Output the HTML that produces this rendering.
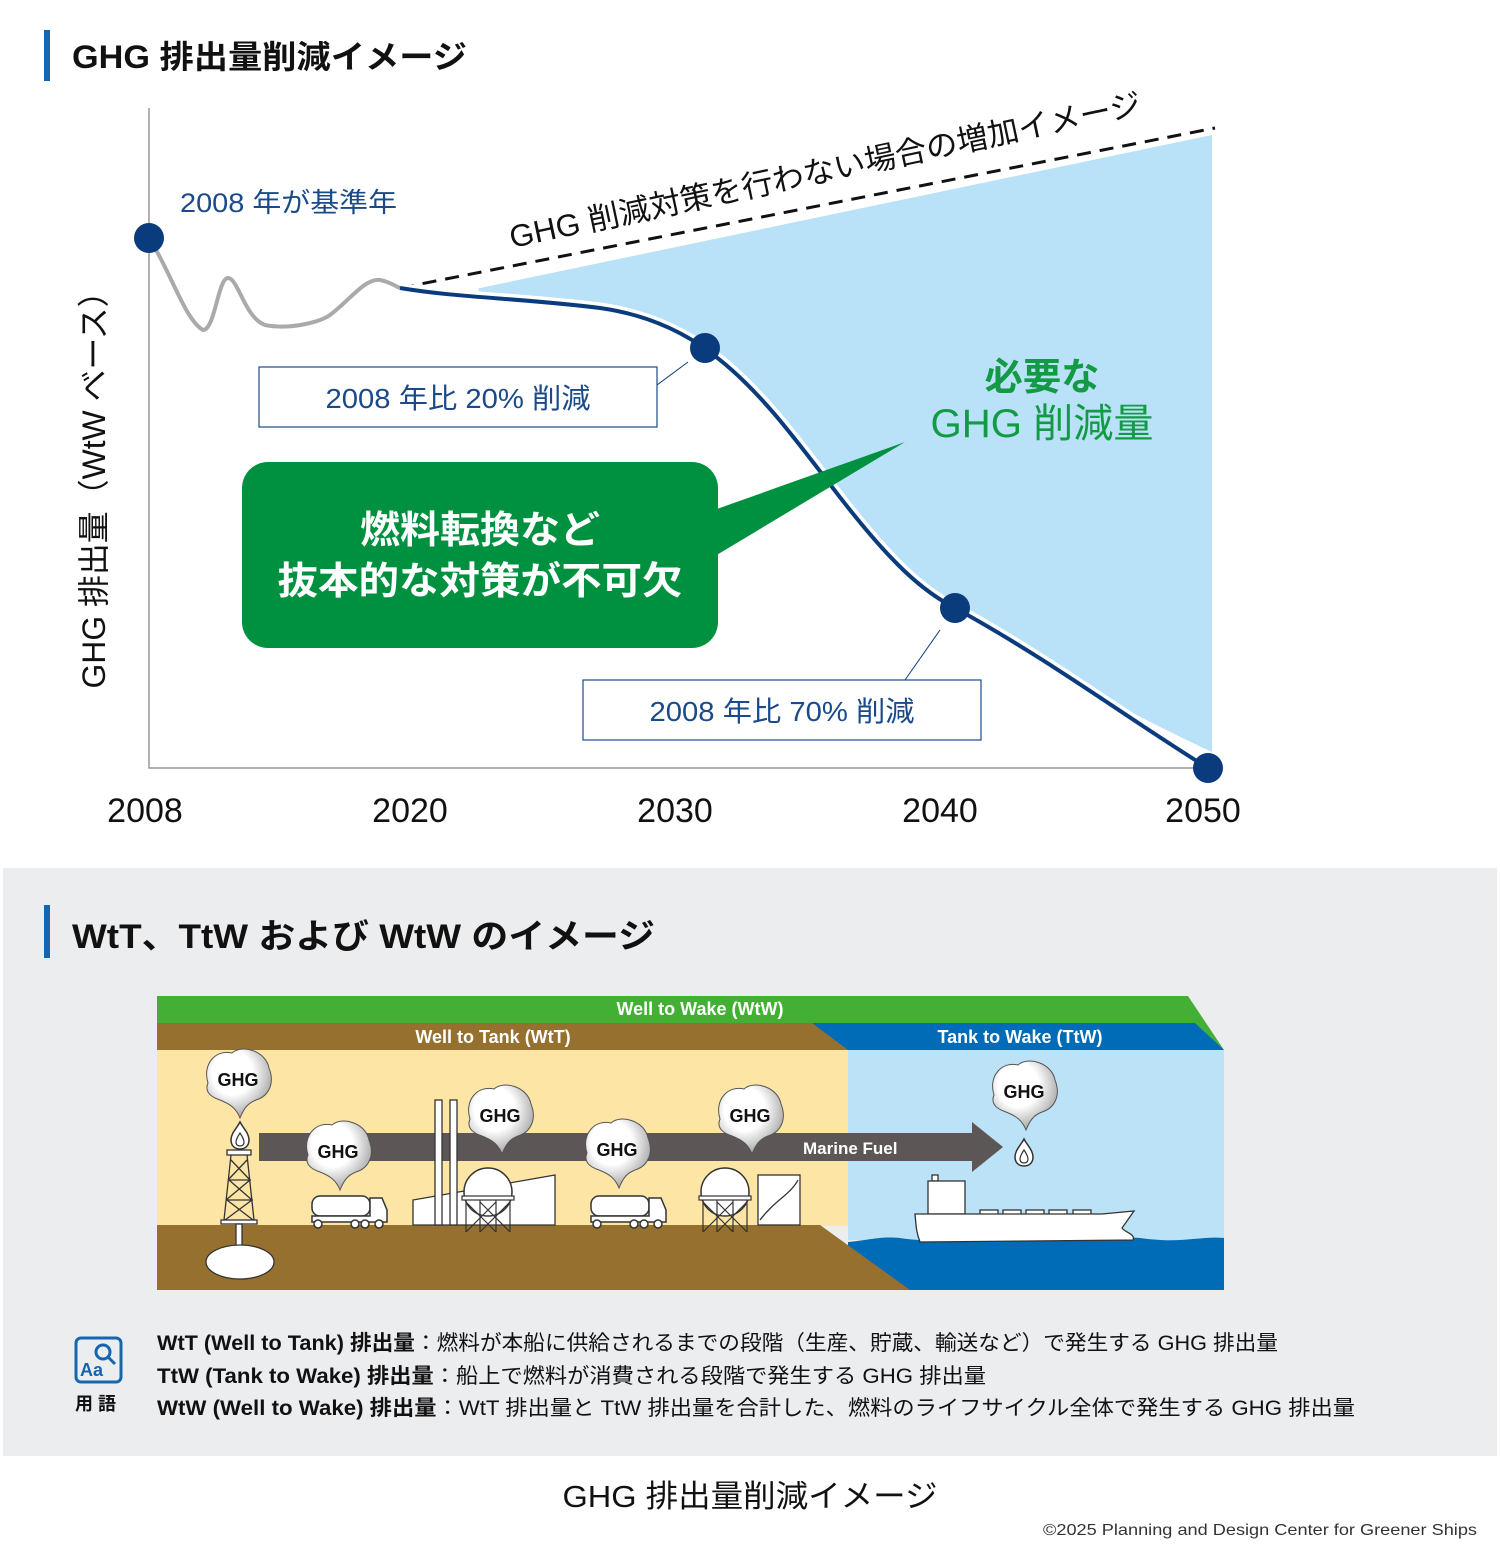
<!DOCTYPE html>
<html><head><meta charset="utf-8"><style>
html,body{margin:0;padding:0;background:#fff}
svg{display:block}
text{font-family:"Liberation Sans","Noto Sans CJK JP",sans-serif}
</style></head><body>
<svg width="1500" height="1561" viewBox="0 0 1500 1561" xmlns="http://www.w3.org/2000/svg">
<defs>
<radialGradient id="cg" cx="0.4" cy="0.35" r="0.7"><stop offset="0.45" stop-color="#fff"/><stop offset="1" stop-color="#9a9a9a"/></radialGradient>
<g id="cloud"><path d="M-30,5 C-36,-14 -22,-29 -6,-25 C4,-34 28,-27 31,-10 C37,5 31,18 18,22 C10,25 6,30 2,40 C-2,30 -8,26 -18,22 C-30,18 -33,12 -30,5 Z" fill="url(#cg)" stroke="#555" stroke-width="1"/></g>
<g id="flame"><path d="M0,-14 C3,-8 9,-3 9,4 C9,10 5,13 0,13 C-5,13 -9,10 -9,4 C-9,-3 -3,-8 0,-14 Z" fill="#fff" stroke="#333" stroke-width="1.5"/><path d="M0,-3 C2,0 4,3 4,6 C4,9 2,10 0,10 C-2,10 -4,9 -4,6 C-4,3 -2,0 0,-3Z" fill="none" stroke="#333" stroke-width="1.2"/></g>
<g id="truck"><rect x="0" y="0" width="58" height="20" rx="8" fill="#fff" stroke="#333" stroke-width="1.5"/><path d="M58,2 h12 l5,12 v12 h-75 v-6 h58z" fill="#fff" stroke="#333" stroke-width="1.5"/><circle cx="6" cy="28" r="4" fill="#fff" stroke="#333" stroke-width="1.5"/><circle cx="43" cy="28" r="4" fill="#fff" stroke="#333" stroke-width="1.5"/><circle cx="53" cy="28" r="4" fill="#fff" stroke="#333" stroke-width="1.5"/><circle cx="67" cy="28" r="4" fill="#fff" stroke="#333" stroke-width="1.5"/></g>
<g id="tank"><circle cx="0" cy="0" r="24" fill="#fff" stroke="#333" stroke-width="1.5"/><rect x="-26" y="4" width="52" height="4" fill="#fff" stroke="#333" stroke-width="1.2"/><path d="M-22,8 v32 M22,8 v32 M-8,8 v32 M8,8 v32 M-22,10 L8,40 M-8,10 L22,40 M22,10 L-8,40 M8,10 L-22,40" stroke="#333" stroke-width="1.2" fill="none"/></g>
</defs>

<rect x="44" y="30" width="6" height="51" fill="#1565b0"/>
<text x="72" y="68" font-size="32" font-weight="bold" fill="#111" textLength="395" lengthAdjust="spacingAndGlyphs">GHG 排出量削減イメージ</text>

<path d="M480,288 L1212,135 L1212,752 C1100,700 1020,650 955,608 C900,565 860,520 820,470 C780,420 740,370 705,348 C660,318 600,305 540,300 C500,296 470,292 480,288 Z" fill="#b9e1f7"/>
<path d="M149,108 V768 H1212" stroke="#999" stroke-width="1.5" fill="none"/>
<path d="M149,238 C170,270 185,320 203,330 C215,330 218,278 228,278 C238,278 245,318 265,325 C290,330 320,322 330,315 C350,300 365,278 380,280 C390,282 395,286 400,288" stroke="#aaa" stroke-width="4" fill="none"/>
<path d="M400,288 L1215,128" stroke="#111" stroke-width="3" stroke-dasharray="14,9" fill="none"/>
<path d="M400,288 C460,298 520,298 600,308 C650,315 690,335 720,360 C770,400 810,460 850,510 C890,560 920,590 955,608 C1050,660 1130,720 1208,768" stroke="#fff" stroke-width="11" fill="none"/>
<path d="M400,288 C460,298 520,298 600,308 C650,315 690,335 720,360 C770,400 810,460 850,510 C890,560 920,590 955,608 C1050,660 1130,720 1208,768" stroke="#0a3b7c" stroke-width="4" fill="none"/>
<g fill="#0a3b7c"><circle cx="149" cy="238" r="15"/><circle cx="705" cy="348" r="15"/><circle cx="955" cy="608" r="15"/><circle cx="1208" cy="768" r="15"/></g>
<path d="M657,385 L688,362 M905,680 L940,630" stroke="#0a3b7c" stroke-width="1"/>

<text x="180" y="212" font-size="27" fill="#1a4a8a" textLength="217" lengthAdjust="spacingAndGlyphs">2008 年が基準年</text>
<text transform="translate(512,248) rotate(-12)" font-size="31" fill="#111" textLength="645" lengthAdjust="spacingAndGlyphs">GHG 削減対策を行わない場合の増加イメージ</text>

<rect x="259" y="367" width="398" height="60" fill="#fff" stroke="#1a4a8a" stroke-width="1.2"/>
<text x="458" y="408" font-size="28" fill="#1a4a8a" text-anchor="middle" textLength="265" lengthAdjust="spacingAndGlyphs">2008 年比 20% 削減</text>
<rect x="583" y="680" width="398" height="60" fill="#fff" stroke="#1a4a8a" stroke-width="1.2"/>
<text x="782" y="721" font-size="28" fill="#1a4a8a" text-anchor="middle" textLength="265" lengthAdjust="spacingAndGlyphs">2008 年比 70% 削減</text>

<path d="M700,515 L905,442 L700,565 Z" fill="#009140"/>
<rect x="242" y="462" width="476" height="186" rx="26" fill="#009140"/>
<text x="480" y="543" font-size="38" font-weight="bold" fill="#fff" text-anchor="middle" textLength="240" lengthAdjust="spacingAndGlyphs">燃料転換など</text>
<text x="480" y="594" font-size="38" font-weight="bold" fill="#fff" text-anchor="middle" textLength="405" lengthAdjust="spacingAndGlyphs">抜本的な対策が不可欠</text>

<text x="1042" y="390" font-size="38" font-weight="bold" fill="#139a44" text-anchor="middle" textLength="115" lengthAdjust="spacingAndGlyphs">必要な</text>
<text x="1042" y="437" font-size="40" fill="#139a44" text-anchor="middle" textLength="223" lengthAdjust="spacingAndGlyphs">GHG 削減量</text>

<text transform="translate(105,482) rotate(-90)" font-size="32" fill="#111" text-anchor="middle" textLength="413" lengthAdjust="spacingAndGlyphs">GHG 排出量（WtW ベース）</text>

<g font-size="34" fill="#111" text-anchor="middle">
<text x="145" y="822">2008</text><text x="410" y="822">2020</text><text x="675" y="822">2030</text><text x="940" y="822">2040</text><text x="1203" y="822">2050</text>
</g>

<rect x="3" y="868" width="1494" height="588" fill="#ecedef"/>
<rect x="44" y="905" width="6" height="53" fill="#1565b0"/>
<text x="72" y="948" font-size="34" font-weight="bold" fill="#111" textLength="583" lengthAdjust="spacingAndGlyphs">WtT、TtW および WtW のイメージ</text>

<path d="M157,996 H1188 L1224,1050 H157 Z" fill="#43b035"/>
<path d="M157,1023 H812 L848,1050 H157 Z" fill="#95702e"/>
<path d="M812,1023 H1195 L1224,1050 H848 Z" fill="#006bb6"/>
<text x="700" y="1015" font-size="18" font-weight="bold" fill="#fff" text-anchor="middle">Well to Wake (WtW)</text>
<text x="493" y="1043" font-size="18" font-weight="bold" fill="#fff" text-anchor="middle">Well to Tank (WtT)</text>
<text x="1020" y="1043" font-size="18" font-weight="bold" fill="#fff" text-anchor="middle">Tank to Wake (TtW)</text>
<rect x="157" y="1050" width="691" height="176" fill="#fde5a6"/>
<rect x="848" y="1050" width="376" height="190" fill="#bbe2f7"/>
<path d="M848,1242 C870,1240 880,1236 900,1238 C940,1244 960,1236 980,1238 C1020,1244 1040,1236 1060,1238 C1100,1244 1120,1236 1140,1238 C1180,1244 1200,1236 1224,1238 V1290 H848 Z" fill="#006bb6"/>
<path d="M157,1225 H820 L910,1290 H157 Z" fill="#95702e"/>

<rect x="259" y="1133" width="714" height="28" fill="#5c5756"/>
<path d="M972,1122 L1003,1147 L972,1172 Z" fill="#5c5756"/>
<text x="803" y="1154" font-size="17" font-weight="bold" fill="#fff">Marine Fuel</text>

<g stroke="#333" stroke-width="1.3" fill="#fff">
<rect x="227" y="1150" width="24" height="5"/>
<path d="M231,1155 L224,1220 M247,1155 L254,1220 M231,1160 L250,1180 M247,1160 L228,1180 M229,1180 L252,1200 M250,1180 L226,1200 M227,1200 L253,1220 M252,1200 L225,1220 M229,1180 H251 M227,1200 H253" fill="none"/>
<rect x="221" y="1220" width="36" height="4"/>
<rect x="236" y="1224" width="6" height="24"/>
<ellipse cx="240" cy="1262" rx="34" ry="17"/>
</g>
<use href="#flame" x="240" y="1136"/>
<use href="#flame" x="1024" y="1153"/>

<use href="#truck" x="312" y="1196"/>
<use href="#truck" x="591" y="1196"/>
<g stroke="#333" stroke-width="1.3" fill="#fff">
<path d="M413,1225 V1200 L555,1175 V1225 Z"/>
<rect x="435" y="1100" width="7" height="125"/><rect x="450" y="1100" width="7" height="125"/>
<rect x="758" y="1175" width="42" height="50"/>
<path d="M760,1220 C775,1200 790,1195 798,1180" fill="none"/>
</g>
<use href="#tank" x="488" y="1192"/>
<use href="#tank" x="725" y="1192"/>

<use href="#cloud" x="238" y="1078"/>
<use href="#cloud" x="338" y="1150"/>
<use href="#cloud" x="500" y="1114"/>
<use href="#cloud" x="617" y="1148"/>
<use href="#cloud" x="750" y="1114"/>
<use href="#cloud" x="1024" y="1090"/>
<g font-size="18" font-weight="bold" fill="#111" text-anchor="middle">
<text x="238" y="1086">GHG</text><text x="338" y="1158">GHG</text><text x="500" y="1122">GHG</text><text x="617" y="1156">GHG</text><text x="750" y="1122">GHG</text><text x="1024" y="1098">GHG</text>
</g>

<g stroke="#333" stroke-width="1.3" fill="#fff">
<rect x="932" y="1175" width="6" height="6"/>
<rect x="928" y="1181" width="37" height="33"/>
<rect x="980" y="1210" width="18" height="5"/><rect x="1003" y="1210" width="18" height="5"/><rect x="1026" y="1210" width="18" height="5"/><rect x="1049" y="1210" width="18" height="5"/><rect x="1073" y="1210" width="18" height="5"/>
<path d="M915,1214 H1102 L1134,1211 L1122,1228 C1124,1232 1136,1234 1133,1240 L920,1242 C916,1232 916,1224 915,1214 Z"/>
</g>

<rect x="76" y="1338" width="45" height="44" rx="5" fill="none" stroke="#1565b0" stroke-width="3"/>
<circle cx="103" cy="1352" r="7" fill="none" stroke="#1565b0" stroke-width="3"/>
<path d="M108,1357 L115,1364" stroke="#1565b0" stroke-width="3"/>
<text x="80" y="1376" font-size="18" font-weight="bold" fill="#1565b0">Aa</text>
<text x="75" y="1410" font-size="18" font-weight="bold" fill="#111">用 語</text>
<g font-size="21" fill="#111">
<text x="157" y="1350" textLength="1121" lengthAdjust="spacingAndGlyphs"><tspan font-weight="bold">WtT (Well to Tank) 排出量</tspan>：燃料が本船に供給されるまでの段階（生産、貯蔵、輸送など）で発生する GHG 排出量</text>
<text x="157" y="1383" textLength="829" lengthAdjust="spacingAndGlyphs"><tspan font-weight="bold">TtW (Tank to Wake) 排出量</tspan>：船上で燃料が消費される段階で発生する GHG 排出量</text>
<text x="157" y="1415" textLength="1198" lengthAdjust="spacingAndGlyphs"><tspan font-weight="bold">WtW (Well to Wake) 排出量</tspan>：WtT 排出量と TtW 排出量を合計した、燃料のライフサイクル全体で発生する GHG 排出量</text>
</g>

<text x="750" y="1507" font-size="31" fill="#111" text-anchor="middle" textLength="375" lengthAdjust="spacingAndGlyphs">GHG 排出量削減イメージ</text>
<text x="1477" y="1535" font-size="16" fill="#333" text-anchor="end" textLength="434" lengthAdjust="spacingAndGlyphs">©2025 Planning and Design Center for Greener Ships</text>
</svg>
</body></html>
